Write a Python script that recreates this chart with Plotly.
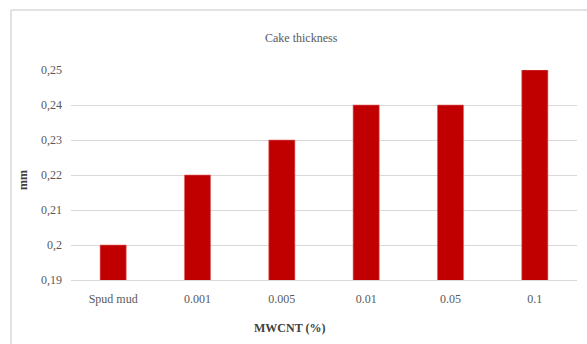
import plotly.graph_objects as go

# Cake thickness measured for each MWCNT concentration
categories = ["Spud mud", "0.001", "0.005", "0.01", "0.05", "0.1"]
thickness_mm = [0.20, 0.22, 0.23, 0.24, 0.24, 0.25]
y_ticks = [0.19, 0.20, 0.21, 0.22, 0.23, 0.24, 0.25]

W, H = 587, 344
L, R, T, B = 71, 10, 70, 64
pw, ph = W - L - R, H - T - B

def px_x(x):
    return (x - L) / pw

def px_y(y):
    return 1 - (y - T) / ph

font_family = "Liberation Serif, Times New Roman, serif"

fig = go.Figure(
    go.Bar(
        x=categories,
        y=thickness_mm,
        marker=dict(color="#C00000", line=dict(color="#dd6b6b", width=0.6)),
        hoverinfo="x+y",
    )
)

fig.update_layout(
    width=W,
    height=H,
    margin=dict(l=L, r=R, t=T, b=B),
    paper_bgcolor="white",
    plot_bgcolor="white",
    separators=",.",
    bargap=0.69,
    showlegend=False,
    font=dict(family=font_family, size=12, color="#595959"),
    xaxis=dict(
        type="category",
        showgrid=False,
        showline=True,
        linecolor="#d9d9d9",
        linewidth=1,
        ticks="",
        ticklabelstandoff=8,
        tickfont=dict(size=12, color="#595959"),
    ),
    yaxis=dict(
        range=[0.19, 0.25],
        tickvals=y_ticks,
        showgrid=True,
        gridcolor="#d9d9d9",
        gridwidth=1,
        zeroline=False,
        showline=False,
        ticks="",
        ticklabelstandoff=8,
        tickfont=dict(size=12, color="#595959"),
    ),
    annotations=[
        dict(
            text="Cake thickness",
            xref="paper", yref="paper",
            x=px_x(301), y=px_y(38),
            xanchor="center", yanchor="middle",
            showarrow=False,
            font=dict(size=12, color="#595959"),
        ),
        dict(
            text="<b>MWCNT (%)</b>",
            xref="paper", yref="paper",
            x=px_x(289), y=px_y(328),
            xanchor="center", yanchor="middle",
            showarrow=False,
            font=dict(size=12, color="#404040"),
        ),
        dict(
            text="<b>mm</b>",
            xref="paper", yref="paper",
            x=px_x(23), y=px_y(180),
            xanchor="center", yanchor="middle",
            textangle=-90,
            showarrow=False,
            font=dict(size=12, color="#404040"),
        ),
    ],
    shapes=[
        # chart-area frame (left and top edges)
        dict(type="line", xref="paper", yref="paper",
             x0=px_x(11), x1=px_x(11), y0=px_y(10), y1=px_y(344),
             line=dict(color="#d9d9d9", width=1.5)),
        dict(type="line", xref="paper", yref="paper",
             x0=px_x(11), x1=px_x(587), y0=px_y(10), y1=px_y(10),
             line=dict(color="#d9d9d9", width=1.5)),
    ],
)

fig.write_html("out.html")
